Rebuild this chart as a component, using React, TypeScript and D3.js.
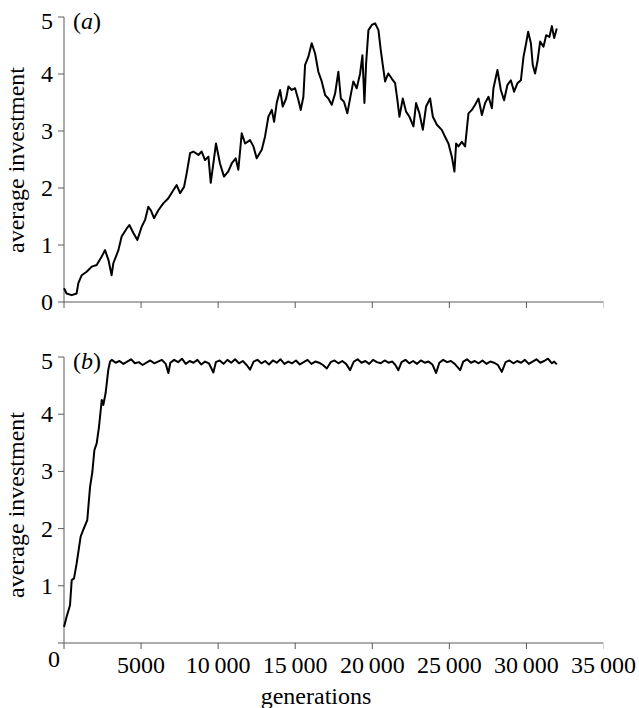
import React, { useEffect, useRef } from "react";
import * as d3 from "d3";

// panel (a)
const genA = [0, 170, 500, 820, 930, 1150, 1470, 1800, 2120, 2450, 2660, 2880, 3090, 3200, 3530, 3740, 4070, 4240, 4500, 4760, 5040, 5260, 5470, 5630, 5840, 6120, 6440, 6770, 7090, 7310, 7530, 7790, 7960, 8180, 8390, 8720, 8930, 9150, 9370, 9520, 9690, 9860, 10120, 10380, 10660, 10880, 11140, 11310, 11530, 11750, 12070, 12290, 12500, 12830, 13040, 13260, 13480, 13630, 13800, 14020, 14190, 14410, 14560, 14770, 14990, 15210, 15360, 15530, 15640, 15850, 16070, 16290, 16500, 16720, 16940, 17150, 17370, 17590, 17800, 17960, 18170, 18380, 18600, 18770, 18990, 19210, 19360, 19490, 19600, 19750, 19970, 20180, 20400, 20550, 20680, 20830, 21040, 21260, 21480, 21630, 21760, 21980, 22190, 22410, 22670, 22840, 23060, 23280, 23490, 23750, 23930, 24190, 24510, 24720, 24940, 25160, 25330, 25440, 25590, 25810, 26020, 26240, 26460, 26670, 26890, 27110, 27320, 27540, 27760, 27860, 28120, 28340, 28550, 28770, 28990, 29200, 29420, 29640, 29810, 29980, 30110, 30290, 30410, 30560, 30710, 30890, 31110, 31280, 31490, 31650, 31800, 31970];
const valA = [0.24, 0.15, 0.12, 0.15, 0.33, 0.47, 0.53, 0.62, 0.65, 0.8, 0.91, 0.74, 0.47, 0.68, 0.91, 1.15, 1.29, 1.35, 1.21, 1.09, 1.32, 1.44, 1.67, 1.61, 1.47, 1.61, 1.73, 1.82, 1.96, 2.05, 1.91, 2.02, 2.26, 2.61, 2.64, 2.58, 2.64, 2.49, 2.55, 2.09, 2.43, 2.78, 2.43, 2.2, 2.29, 2.43, 2.52, 2.32, 2.96, 2.78, 2.84, 2.73, 2.52, 2.67, 2.9, 3.25, 3.37, 3.16, 3.49, 3.72, 3.43, 3.57, 3.78, 3.72, 3.75, 3.54, 3.37, 3.6, 4.16, 4.3, 4.54, 4.36, 4.04, 3.87, 3.63, 3.57, 3.46, 3.66, 4.04, 3.57, 3.51, 3.31, 3.63, 3.87, 3.75, 4.01, 4.33, 3.49, 4.19, 4.77, 4.86, 4.89, 4.77, 4.42, 4.16, 3.87, 4.01, 3.92, 3.84, 3.54, 3.25, 3.57, 3.34, 3.25, 3.08, 3.49, 3.31, 3.02, 3.43, 3.57, 3.25, 3.11, 3.02, 2.9, 2.78, 2.55, 2.29, 2.78, 2.73, 2.81, 2.73, 3.31, 3.37, 3.46, 3.57, 3.28, 3.49, 3.6, 3.4, 3.75, 4.07, 3.72, 3.54, 3.81, 3.89, 3.69, 3.84, 3.89, 4.3, 4.54, 4.74, 4.54, 4.16, 4.01, 4.21, 4.57, 4.48, 4.68, 4.65, 4.84, 4.63, 4.8];

// panel (b)
const genB = [0, 170, 390, 500, 650, 820, 1080, 1250, 1510, 1690, 1840, 1970, 2120, 2270, 2450, 2550, 2700, 2870, 2990, 3100, 3350, 3600, 3850, 4100, 4350, 4600, 4850, 5100, 5350, 5600, 5850, 6100, 6350, 6600, 6770, 6900, 7150, 7400, 7650, 7900, 8150, 8400, 8650, 8900, 9150, 9400, 9690, 9850, 10100, 10350, 10600, 10850, 11100, 11350, 11600, 11850, 12070, 12300, 12550, 12800, 13050, 13300, 13550, 13800, 14050, 14300, 14550, 14800, 15050, 15300, 15550, 15800, 16050, 16300, 16550, 16800, 17050, 17300, 17550, 17800, 18050, 18300, 18560, 18800, 19050, 19300, 19550, 19800, 20050, 20300, 20550, 20800, 21050, 21300, 21500, 21690, 21900, 22150, 22400, 22650, 22900, 23150, 23400, 23650, 23900, 24140, 24350, 24600, 24850, 25100, 25350, 25700, 25900, 26150, 26400, 26650, 26900, 27150, 27400, 27650, 27900, 28150, 28400, 28650, 28900, 29150, 29400, 29650, 29900, 30150, 30400, 30650, 30900, 31150, 31400, 31650, 31800, 31970];
const valB = [0.28, 0.46, 0.66, 1.1, 1.13, 1.39, 1.86, 1.98, 2.15, 2.73, 2.99, 3.37, 3.49, 3.78, 4.25, 4.16, 4.37, 4.77, 4.92, 4.95, 4.9, 4.93, 4.88, 4.92, 4.96, 4.89, 4.91, 4.86, 4.9, 4.94, 4.89, 4.92, 4.95, 4.88, 4.72, 4.9, 4.95, 4.91, 4.97, 4.88, 4.93, 4.9, 4.95, 4.87, 4.92, 4.89, 4.73, 4.91, 4.94, 4.88, 4.95, 4.9, 4.96, 4.89, 4.93, 4.86, 4.78, 4.92, 4.95, 4.89, 4.93, 4.87, 4.94, 4.9, 4.96, 4.88, 4.92, 4.89, 4.94, 4.87, 4.91, 4.95, 4.88, 4.92, 4.9, 4.86, 4.8, 4.91, 4.94, 4.89, 4.93, 4.88, 4.77, 4.92, 4.96, 4.9, 4.93, 4.88, 4.95, 4.91, 4.89, 4.94, 4.9, 4.92, 4.86, 4.77, 4.91, 4.95, 4.89, 4.93, 4.88, 4.94, 4.9, 4.92, 4.87, 4.72, 4.9, 4.95, 4.91, 4.93, 4.88, 4.77, 4.92, 4.96, 4.9, 4.93, 4.89, 4.94, 4.88, 4.92, 4.9, 4.86, 4.74, 4.91, 4.94, 4.89, 4.93, 4.9, 4.95, 4.88, 4.92, 4.96, 4.9, 4.93, 4.97, 4.89, 4.92, 4.87];

const xTicks = [0, 5000, 10000, 15000, 20000, 25000, 30000, 35000];
const xTickLabels = ["0", "5000", "10\u2009000", "15\u2009000", "20\u2009000", "25\u2009000", "30\u2009000", "35\u2009000"];
const yTicks = [0, 1, 2, 3, 4, 5];

const App = () => {
  const svgRef = useRef<SVGSVGElement>(null);

  useEffect(() => {
    const svg = d3.select(svgRef.current);
    svg.selectAll("*").remove();

    const font = "'Liberation Serif', 'Times New Roman', serif";
    const axisColor = "#5a5a5a";

    const x = d3.scaleLinear().domain([0, 35000]).range([64, 603.5]);

    const panels = [
      { gens: genA, vals: valA, top: 17, bottom: 302, tag: "a", labelY: 160, showX: false },
      { gens: genB, vals: valB, top: 357, bottom: 643, tag: "b", labelY: 505, showX: true },
    ];

    panels.forEach((p) => {
      const y = d3.scaleLinear().domain([0, 5]).range([p.bottom, p.top]);
      const g = svg.append("g");

      // axes
      g.append("line")
        .attr("x1", x(0)).attr("x2", x(35000))
        .attr("y1", y(0)).attr("y2", y(0))
        .attr("stroke", axisColor).attr("stroke-width", 1);
      g.append("line")
        .attr("x1", x(0)).attr("x2", x(0))
        .attr("y1", y(5)).attr("y2", y(0) + 6)
        .attr("stroke", axisColor).attr("stroke-width", 1);

      xTicks.slice(1).forEach((t) => {
        g.append("line")
          .attr("x1", x(t)).attr("x2", x(t))
          .attr("y1", y(0)).attr("y2", y(0) + 6)
          .attr("stroke", t === 35000 ? "#cfcfcf" : axisColor)
          .attr("stroke-width", 1);
      });

      yTicks.forEach((t) => {
        g.append("line")
          .attr("x1", x(0) - 6).attr("x2", x(0))
          .attr("y1", y(t)).attr("y2", y(t))
          .attr("stroke", axisColor).attr("stroke-width", 1);
        if (t === 0 && p.showX) return;
        g.append("text")
          .attr("x", x(0) - 11)
          .attr("y", y(t) + (t === 5 ? 12 : 8))
          .attr("text-anchor", "end")
          .style("font-family", font)
          .style("font-size", "24px")
          .text(t);
      });

      if (p.showX) {
        xTicks.forEach((t, i) => {
          g.append("text")
            .attr("x", t === 0 ? x(0) - 10 : x(t))
            .attr("y", t === 0 ? y(0) + 24 : y(0) + 30)
            .attr("text-anchor", "middle")
            .style("font-family", font)
            .style("font-size", "24px")
            .text(xTickLabels[i]);
        });
        g.append("text")
          .attr("x", 316)
          .attr("y", 704)
          .attr("text-anchor", "middle")
          .style("font-family", font)
          .style("font-size", "24px")
          .text("generations");
      }

      // y label
      g.append("text")
        .attr("transform", `translate(24,${p.labelY}) rotate(-90)`)
        .attr("text-anchor", "middle")
        .style("font-family", font)
        .style("font-size", "24px")
        .text("average investment");

      // panel tag
      const tag = g.append("text")
        .attr("x", 73)
        .attr("y", p.top + 12)
        .style("font-family", font)
        .style("font-size", "24px");
      tag.append("tspan").text("(");
      tag.append("tspan").style("font-style", "italic").text(p.tag);
      tag.append("tspan").text(")");

      const line = d3.line<number>()
        .x((d, i) => x(p.gens[i]))
        .y((d) => y(d));

      g.append("path")
        .datum(p.vals)
        .attr("fill", "none")
        .attr("stroke", "#000")
        .attr("stroke-width", 2)
        .attr("stroke-linejoin", "round")
        .attr("d", line);
    });
  }, []);

  return (
    <svg
      ref={svgRef}
      width={639}
      height={708}
      style={{ position: "absolute", left: 0, top: 0, background: "#fff" }}
    ></svg>
  );
};

export default App;
